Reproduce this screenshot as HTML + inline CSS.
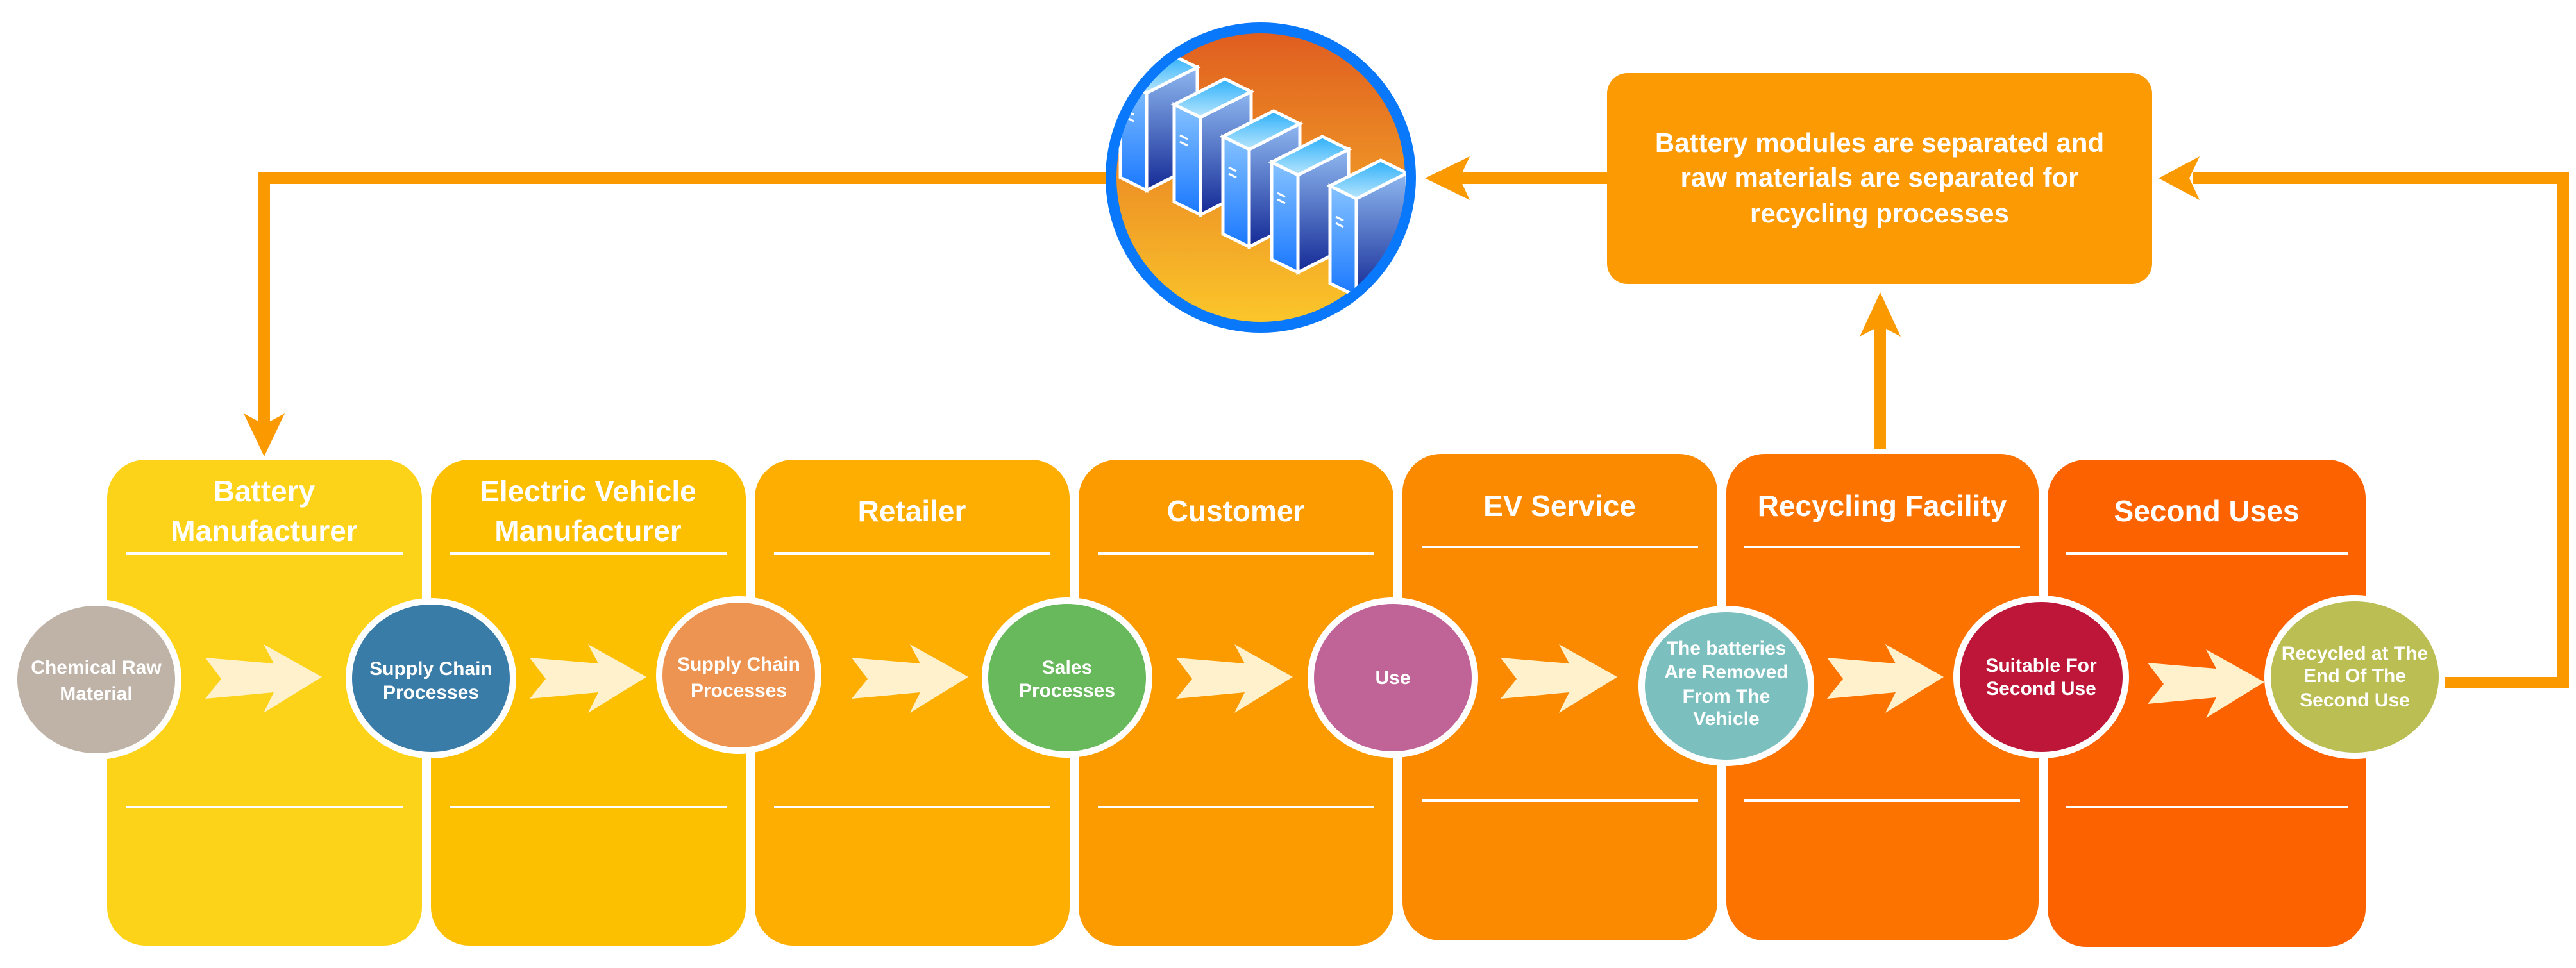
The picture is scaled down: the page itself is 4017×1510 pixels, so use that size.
<!DOCTYPE html>
<html><head><meta charset="utf-8"><style>
html,body{margin:0;padding:0;background:#fff;}
svg{display:block;}
text{font-family:"Liberation Sans",Arial,sans-serif;font-weight:bold;fill:#fff;}
</style></head><body>
<svg width="4017" height="1510" viewBox="0 0 4017 1510" xmlns="http://www.w3.org/2000/svg">
<defs>
<linearGradient id="bg" x1="0" y1="0" x2="0" y2="1"><stop offset="0" stop-color="#E05E20"/><stop offset="1" stop-color="#FBC62A"/></linearGradient>
<linearGradient id="lf" x1="0" y1="0" x2="0" y2="1"><stop offset="0" stop-color="#85C2FF"/><stop offset="1" stop-color="#1A78FF"/></linearGradient>
<linearGradient id="rf" x1="0" y1="0" x2="0" y2="1"><stop offset="0" stop-color="#8FB8F0"/><stop offset="1" stop-color="#142A96"/></linearGradient>
<linearGradient id="tf" x1="0" y1="0" x2="0" y2="1"><stop offset="0" stop-color="#2FB0FA"/><stop offset="1" stop-color="#B8E6FD"/></linearGradient>
<clipPath id="cc"><circle cx="1966" cy="277" r="226"/></clipPath>
<g id="prism">
<polygon points="-79,40 -38,60 -38,212 -79,192" fill="url(#lf)" stroke="#fff" stroke-width="5"/>
<polygon points="-38,60 41,20 41,172 -38,212" fill="url(#rf)" stroke="#fff" stroke-width="5"/>
<polygon points="0,0 41,20 -38,60 -79,40" fill="url(#tf)" stroke="#fff" stroke-width="5"/>
<line x1="-70" y1="88" x2="-58" y2="94" stroke="#fff" stroke-width="3"/>
<line x1="-70" y1="98" x2="-58" y2="104" stroke="#fff" stroke-width="3"/>
</g>
<polygon id="arr" points="0,21 107,30 91,0 182,51 91,107 107,75 0,85 25,54" fill="#FEF1CC"/>
</defs>

<!-- panels -->
<rect x="167" y="717" width="491" height="758" rx="60" fill="#FDD31A"/>
<rect x="672" y="717" width="491" height="758" rx="60" fill="#FDC000"/>
<rect x="1177" y="717" width="491" height="758" rx="60" fill="#FDAE00"/>
<rect x="1682" y="717" width="491" height="758" rx="60" fill="#FC9B00"/>
<rect x="2187" y="708" width="491" height="759" rx="60" fill="#FB8A00"/>
<rect x="2692" y="708" width="487" height="759" rx="60" fill="#FC7300"/>
<rect x="3193" y="717" width="496" height="760" rx="60" fill="#FD6200"/>

<!-- header lines -->
<g stroke="#fff" stroke-width="4">
<line x1="197" y1="863" x2="628" y2="863"/><line x1="197" y1="1259" x2="628" y2="1259"/>
<line x1="702" y1="863" x2="1133" y2="863"/><line x1="702" y1="1259" x2="1133" y2="1259"/>
<line x1="1207" y1="863" x2="1638" y2="863"/><line x1="1207" y1="1259" x2="1638" y2="1259"/>
<line x1="1712" y1="863" x2="2143" y2="863"/><line x1="1712" y1="1259" x2="2143" y2="1259"/>
<line x1="2217" y1="853" x2="2648" y2="853"/><line x1="2217" y1="1249" x2="2648" y2="1249"/>
<line x1="2720" y1="853" x2="3150" y2="853"/><line x1="2720" y1="1249" x2="3150" y2="1249"/>
<line x1="3222" y1="863" x2="3661" y2="863"/><line x1="3222" y1="1259" x2="3661" y2="1259"/>
</g>

<!-- headers -->
<g font-size="46" text-anchor="middle">
<text x="412" y="782">Battery</text>
<text x="412" y="844">Manufacturer</text>
<text x="917" y="782">Electric Vehicle</text>
<text x="917" y="844">Manufacturer</text>
<text x="1422" y="813">Retailer</text>
<text x="1927" y="813">Customer</text>
<text x="2432" y="805">EV Service</text>
<text x="2935" y="805">Recycling Facility</text>
<text x="3441" y="813">Second Uses</text>
</g>

<!-- arrows -->
<use href="#arr" x="320" y="1005"/>
<use href="#arr" x="826" y="1005"/>
<use href="#arr" x="1328" y="1005"/>
<use href="#arr" x="1834" y="1005"/>
<use href="#arr" x="2340" y="1005"/>
<use href="#arr" x="2849" y="1005"/>
<use href="#arr" x="3349" y="1013"/>

<!-- connectors -->
<g fill="#FB9A00" stroke="none">
<rect x="403" y="269" width="1325" height="18"/>
<rect x="403" y="269" width="18" height="400"/>
<polygon points="412,712 380,645 412,662 444,645"/>
<rect x="2240" y="269" width="268" height="18"/>
<polygon points="2222,278 2292,244 2276,278 2292,312"/>
<rect x="3800" y="1056" width="206" height="18"/>
<rect x="3988" y="269" width="18" height="805"/>
<rect x="3420" y="269" width="586" height="18"/>
<polygon points="3366,278 3430,244 3414,278 3430,312"/>
<rect x="2923" y="500" width="18" height="200"/>
<polygon points="2932,456 2900,525 2932,508 2964,525"/>
</g>

<!-- top box -->
<rect x="2506" y="114" width="850" height="329" rx="32" fill="#FC9A03"/>
<g font-size="42" text-anchor="middle">
<text x="2931" y="237">Battery modules are separated and</text>
<text x="2931" y="291">raw materials are separated for</text>
<text x="2931" y="347">recycling processes</text>
</g>

<!-- picture circle -->
<circle cx="1966" cy="277" r="242" fill="#0A78FA"/>
<circle cx="1966" cy="277" r="225" fill="url(#bg)"/>
<g clip-path="url(#cc)">
<use href="#prism" x="1826" y="85"/>
<use href="#prism" x="1910" y="123"/>
<use href="#prism" x="1986" y="173"/>
<use href="#prism" x="2062" y="213"/>
<use href="#prism" x="2153" y="250"/>
</g>

<!-- circles -->
<g stroke="#fff" stroke-width="10">
<ellipse cx="150" cy="1060" rx="128" ry="120" fill="#BFB3A8"/>
<ellipse cx="672" cy="1058" rx="128" ry="120" fill="#3A7CA8"/>
<ellipse cx="1152" cy="1053" rx="124" ry="118" fill="#EE9452"/>
<ellipse cx="1664" cy="1057" rx="128" ry="120" fill="#68B85C"/>
<ellipse cx="2172" cy="1057" rx="128" ry="120" fill="#C06498"/>
<ellipse cx="2692" cy="1070" rx="132" ry="120" fill="#7CBFBF"/>
<ellipse cx="3183" cy="1056" rx="132" ry="122" fill="#BE1638"/>
<ellipse cx="3672" cy="1056" rx="136" ry="123" fill="#BBBE52"/>
</g>
<g font-size="30" text-anchor="middle">
<text x="150" y="1051">Chemical Raw</text><text x="150" y="1092">Material</text>
<text x="672" y="1053">Supply Chain</text><text x="672" y="1090">Processes</text>
<text x="1152" y="1046">Supply Chain</text><text x="1152" y="1087">Processes</text>
<text x="1664" y="1051">Sales</text><text x="1664" y="1087">Processes</text>
<text x="2172" y="1067">Use</text>
<text x="2692" y="1021">The batteries</text><text x="2692" y="1058">Are Removed</text><text x="2692" y="1096">From The</text><text x="2692" y="1131">Vehicle</text>
<text x="3183" y="1048">Suitable For</text><text x="3183" y="1084">Second Use</text>
<text x="3672" y="1029">Recycled at The</text><text x="3672" y="1064">End Of The</text><text x="3672" y="1102">Second Use</text>
</g>
</svg>
</body></html>
